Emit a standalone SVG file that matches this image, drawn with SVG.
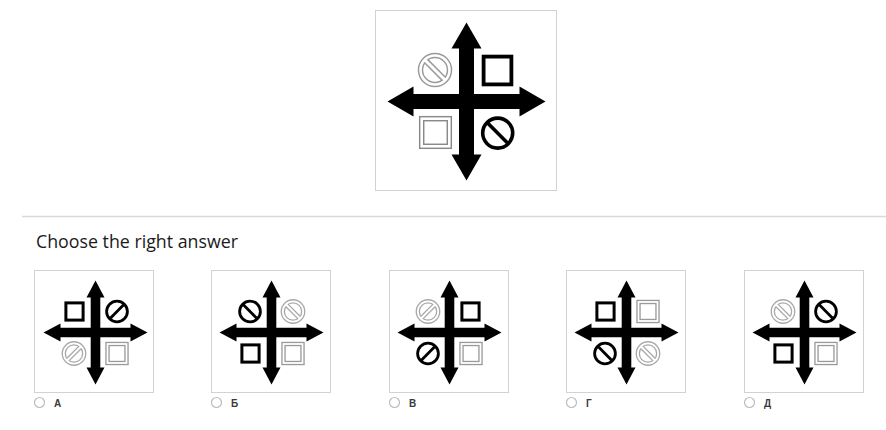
<svg xmlns="http://www.w3.org/2000/svg" xmlns:xlink="http://www.w3.org/1999/xlink" width="886" height="430" viewBox="0 0 886 430">
<style>
.frame{fill:#fff;stroke:#d2d2d2;stroke-width:1}
.radio{fill:#fff;stroke:#bdbdbd;stroke-width:1.2}
.lbl{font-family:"Liberation Sans",Arial,sans-serif;font-size:10px;font-weight:bold;fill:#3a3a3a}
.title{font-family:"Open Sans","Noto Sans",sans-serif;font-size:18px;fill:#1a1a1a}
</style>
<defs>
  <path id="bigCross" fill="#000" d="M-7.5-7.5V-53H-15L0-79L15-53H7.5V-7.5H53V-15L79 0L53 15V7.5H7.5V53H15L0 79L-15 53H-7.5V7.5H-53V15L-79 0L-53-15V-7.5Z"/>
  <path id="smCross" fill="#000" d="M-4.8-4.8V-35H-9L0-52L9-35H4.8V-4.8H35V-9L52 0L35 9V4.8H4.8V35H9L0 52L-9 35H-4.8V4.8H-35V9L-52 0L-35-9V-4.8Z"/>
  <g id="bBsq"><rect x="-13.9" y="-13.9" width="27.8" height="27.8" fill="#fff" stroke="#000" stroke-width="3.8"/></g>
  <g id="bBcirc" fill="none" stroke="#000" stroke-width="3.6"><circle r="15" fill="#fff"/><line x1="-10.6" y1="-10.6" x2="10.6" y2="10.6"/></g>
  <g id="bGcirc" fill="none"><circle r="14.5" fill="#fff" stroke="#9a9a9a" stroke-width="5.5"/><line x1="-10.3" y1="-10.3" x2="10.3" y2="10.3" stroke="#9a9a9a" stroke-width="6"/><circle r="14.5" stroke="#fff" stroke-width="2.6"/><line x1="-10.3" y1="-10.3" x2="10.3" y2="10.3" stroke="#fff" stroke-width="3"/></g>
  <g id="bGsq"><rect x="-13.8" y="-13.8" width="27.6" height="27.6" fill="#fff" stroke="#8a8a8a" stroke-width="5.5"/><rect x="-13.8" y="-13.8" width="27.6" height="27.6" fill="none" stroke="#fff" stroke-width="2.6"/></g>
  <g id="sBsq"><rect x="-8.6" y="-8.6" width="17.2" height="17.2" fill="#fff" stroke="#000" stroke-width="3"/></g>
  <g id="sBcirc" fill="none" stroke="#000" stroke-width="2.8"><circle r="10.4" fill="#fff"/><line x1="-7.4" y1="-7.4" x2="7.4" y2="7.4"/></g>
  <g id="sGcirc" fill="none"><circle r="10.2" fill="#fff" stroke="#a8a8a8" stroke-width="4.4"/><line x1="-7.2" y1="-7.2" x2="7.2" y2="7.2" stroke="#a8a8a8" stroke-width="4.6"/><circle r="10.2" stroke="#fff" stroke-width="1.8"/><line x1="-7.2" y1="-7.2" x2="7.2" y2="7.2" stroke="#fff" stroke-width="2"/></g>
  <g id="sGsq"><rect x="-9.5" y="-9.5" width="19" height="19" fill="#fff" stroke="#999" stroke-width="4.4"/><rect x="-9.5" y="-9.5" width="19" height="19" fill="none" stroke="#fff" stroke-width="1.8"/></g>
</defs>
<rect width="886" height="430" fill="#fff"/>

<g id="question">
  <rect class="frame" x="375.5" y="10.5" width="181" height="180"/>
  <g transform="translate(466.5,101.5)">
    <use xlink:href="#bigCross"/>
    <use xlink:href="#bGcirc" transform="translate(-31.5,-31.5)"/>
    <use xlink:href="#bBsq" transform="translate(31,-31)"/>
    <use xlink:href="#bGsq" transform="translate(-31,31)"/>
    <use xlink:href="#bBcirc" transform="translate(31.2,31.6)"/>
  </g>
</g>

<line x1="22" y1="216.5" x2="886" y2="216.5" stroke="#d9d9d9" stroke-width="1.5"/>
<text class="title" x="36" y="248" textLength="202" lengthAdjust="spacingAndGlyphs">Choose the right answer</text>

<g id="option-A">
  <rect class="frame" x="34.5" y="270.5" width="119" height="122"/>
  <g transform="translate(95.5,332.5)">
    <use xlink:href="#smCross"/>
    <use xlink:href="#sBsq" transform="translate(-21,-21)"/>
    <use xlink:href="#sBcirc" transform="translate(21.5,-21) rotate(90)"/>
    <use xlink:href="#sGcirc" transform="translate(-21.5,21) rotate(90)"/>
    <use xlink:href="#sGsq" transform="translate(21.5,21)"/>
  </g>
  <circle class="radio" cx="39.5" cy="402.5" r="5"/>
  <text class="lbl" x="54" y="406.5">А</text>
</g>

<g id="option-B">
  <rect class="frame" x="211.5" y="270.5" width="119" height="122"/>
  <g transform="translate(271.5,332.5)">
    <use xlink:href="#smCross"/>
    <use xlink:href="#sBcirc" transform="translate(-21.5,-21)"/>
    <use xlink:href="#sGcirc" transform="translate(21.5,-21)"/>
    <use xlink:href="#sBsq" transform="translate(-21,21)"/>
    <use xlink:href="#sGsq" transform="translate(21.5,21)"/>
  </g>
  <circle class="radio" cx="216.5" cy="402.5" r="5"/>
  <text class="lbl" x="231" y="406.5">Б</text>
</g>

<g id="option-C">
  <rect class="frame" x="389.5" y="270.5" width="119" height="122"/>
  <g transform="translate(449.5,332.5)">
    <use xlink:href="#smCross"/>
    <use xlink:href="#sGcirc" transform="translate(-21.5,-21) rotate(90)"/>
    <use xlink:href="#sBsq" transform="translate(21,-21)"/>
    <use xlink:href="#sBcirc" transform="translate(-21.5,21) rotate(90)"/>
    <use xlink:href="#sGsq" transform="translate(21.5,21)"/>
  </g>
  <circle class="radio" cx="394.5" cy="402.5" r="5"/>
  <text class="lbl" x="409" y="406.5">В</text>
</g>

<g id="option-D">
  <rect class="frame" x="566.5" y="270.5" width="119" height="122"/>
  <g transform="translate(626.5,332.5)">
    <use xlink:href="#smCross"/>
    <use xlink:href="#sBsq" transform="translate(-21,-21)"/>
    <use xlink:href="#sGsq" transform="translate(21.5,-21)"/>
    <use xlink:href="#sBcirc" transform="translate(-21.5,21)"/>
    <use xlink:href="#sGcirc" transform="translate(21.5,21)"/>
  </g>
  <circle class="radio" cx="571.5" cy="402.5" r="5"/>
  <text class="lbl" x="586" y="406.5">Г</text>
</g>

<g id="option-E">
  <rect class="frame" x="744.5" y="270.5" width="119" height="122"/>
  <g transform="translate(804.5,332.5)">
    <use xlink:href="#smCross"/>
    <use xlink:href="#sGcirc" transform="translate(-21.5,-21)"/>
    <use xlink:href="#sBcirc" transform="translate(21.5,-21)"/>
    <use xlink:href="#sBsq" transform="translate(-21,21)"/>
    <use xlink:href="#sGsq" transform="translate(21.5,21)"/>
  </g>
  <circle class="radio" cx="749.5" cy="402.5" r="5"/>
  <text class="lbl" x="764" y="406.5">Д</text>
</g>
</svg>
